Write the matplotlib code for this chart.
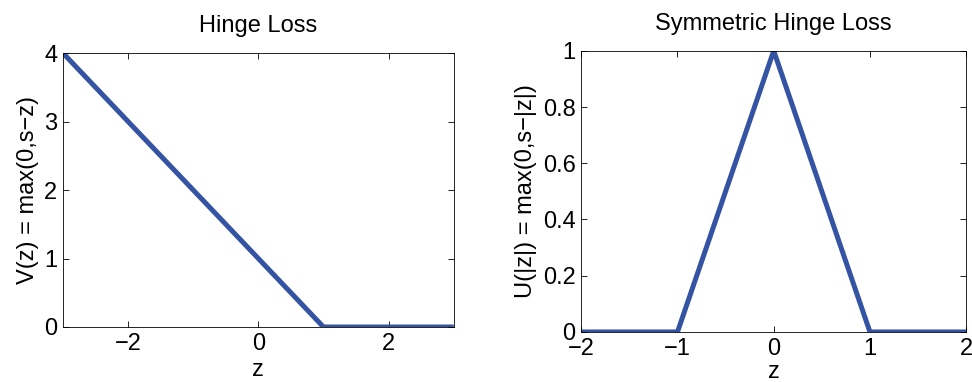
import matplotlib
matplotlib.use("Agg")
import matplotlib.pyplot as plt

plt.rcParams['font.family'] = ['Liberation Sans', 'DejaVu Sans']

# hinge loss data
hinge_z = [-3, 1, 3]
hinge_v = [4, 0, 0]

# symmetric hinge loss data
sym_z = [-2, -1, 0, 1, 2]
sym_u = [0, 0, 1, 0, 0]

line_color = '#3453a3'

fig = plt.figure(figsize=(9.72, 3.82), dpi=100)
ax1 = fig.add_axes([0.0648, 0.144, 0.402, 0.717])
ax2 = fig.add_axes([0.598, 0.131, 0.396, 0.736])

ax1.plot(hinge_z, hinge_v, color=line_color, lw=3.6, solid_capstyle='butt')
ax1.set_xlim(-3, 3)
ax1.set_ylim(0, 4)
ax1.set_xticks([-2, 0, 2])
ax1.set_yticks([0, 1, 2, 3, 4])
ax1.set_title('Hinge Loss', fontsize=17, pad=15)
ax1.set_xlabel('z', fontsize=17, labelpad=3)
ax1.set_ylabel('V(z) = max(0,s\u2212z)', fontsize=17, labelpad=4)

ax2.plot(sym_z, sym_u, color=line_color, lw=3.6, solid_capstyle='butt')
ax2.set_xlim(-2, 2)
ax2.set_ylim(0, 1)
ax2.set_xticks([-2, -1, 0, 1, 2])
ax2.set_yticks([0, 0.2, 0.4, 0.6, 0.8, 1])
ax2.set_yticklabels(['0', '0.2', '0.4', '0.6', '0.8', '1'])
ax2.set_title('Symmetric Hinge Loss', fontsize=17, pad=15)
ax2.set_xlabel('z', fontsize=17, labelpad=1)
ax2.set_ylabel('U(|z|) = max(0,s\u2212|z|)', fontsize=17, labelpad=4)

for ax in (ax1, ax2):
    ax.tick_params(direction='in', top=True, right=True, labelsize=17, length=4, width=0.6, pad=4)
    for sp in ax.spines.values():
        sp.set_linewidth(0.6)

fig.savefig('out.png', dpi=100)
